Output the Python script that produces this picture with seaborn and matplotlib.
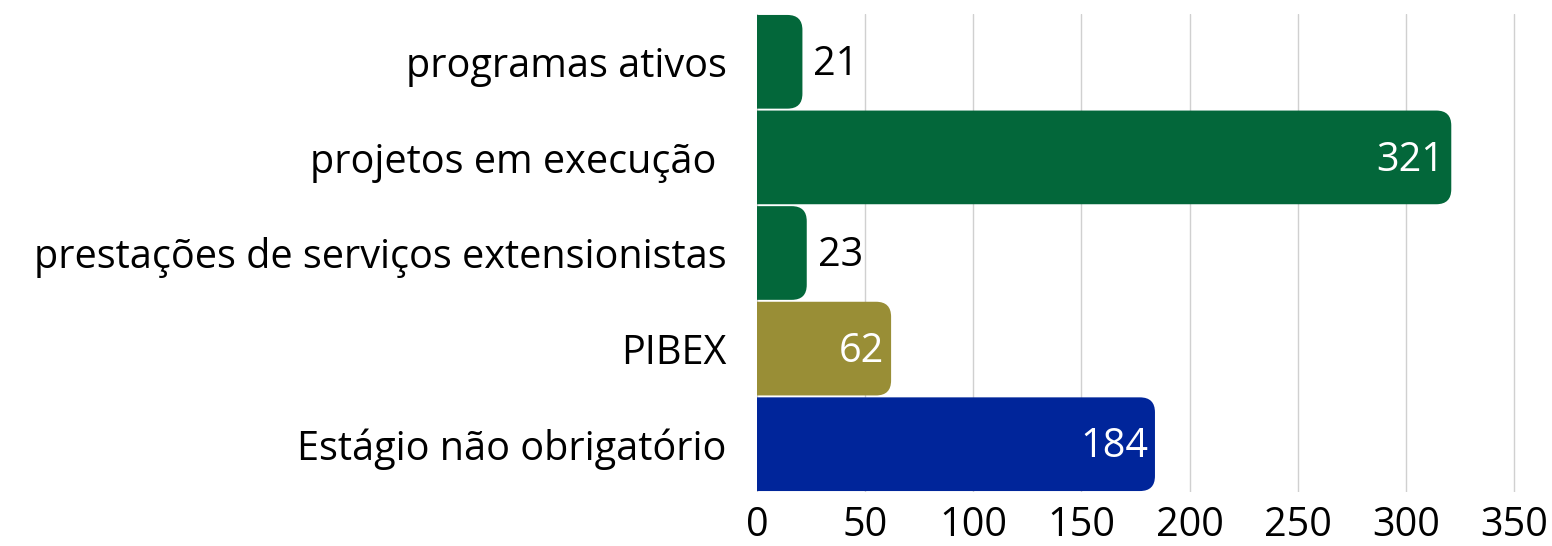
import pandas as pd
import seaborn as sns
import matplotlib.pyplot as plt
from matplotlib.patches import FancyBboxPatch

categories = ['programas ativos', 'projetos em execução ', 'prestações de serviços extensionistas',
              'PIBEX', 'Estágio não obrigatório']
values = [21, 321, 23, 62, 184]
colors = ['#03673A', '#03673A', '#03673A', '#998E36', '#00259A']
inside = [False, True, False, True, True]

sns.set_style('white')
plt.rcParams['font.family'] = ['Open Sans', 'DejaVu Sans']
plt.rcParams['text.color'] = 'black'
plt.rcParams['xtick.color'] = 'black'
plt.rcParams['ytick.color'] = 'black'

df = pd.DataFrame({'cat': categories, 'val': values})

fig = plt.figure(figsize=(15.52, 5.46), dpi=100)
ax = fig.add_axes([757 / 1552, 54 / 546, 783 / 1552, 478 / 546])
sns.barplot(data=df, x='val', y='cat', hue='cat', palette=colors, legend=False,
            width=0.98, saturation=1, ax=ax, zorder=2)

xmax = 783 / (757 / 350)
ax.set_xlim(0, xmax)
ax.set_ylim(4.5, -0.5)

# swap plain bars for ones with a rounded right end
px_x = 783 / xmax
px_y = 478 / 5
r = 15 / px_x
for p in list(ax.patches):
    x0, y0 = p.get_x(), p.get_y()
    w, h = p.get_width(), p.get_height()
    fb = FancyBboxPatch((x0 - r, y0), w + r, h,
                        boxstyle=f'round,pad=0,rounding_size={r}',
                        mutation_aspect=px_x / px_y,
                        facecolor=p.get_facecolor(), edgecolor='none', zorder=2)
    p.remove()
    ax.add_patch(fb)

for i, v in enumerate(values):
    if inside[i]:
        ax.text(v - 7 / px_x, i + 0.03, str(v), color='white', ha='right', va='center', fontsize=28.5, zorder=3)
    else:
        ax.text(v + 11 / px_x, i + 0.03, str(v), color='black', ha='left', va='center', fontsize=28.5, zorder=3)

ax.set_xticks(range(0, 351, 50))
ax.grid(axis='x', color='#d0d0d0', linewidth=1, zorder=0)
ax.grid(axis='y', visible=False)
ax.set_axisbelow(True)
sns.despine(ax=ax, left=True, bottom=True)
ax.tick_params(axis='y', length=0, pad=22, labelsize=28.5)
ax.tick_params(axis='x', length=0, pad=10, labelsize=28.5)
ax.set_xlabel('')
ax.set_ylabel('')

fig.savefig('out.png', dpi=100)
